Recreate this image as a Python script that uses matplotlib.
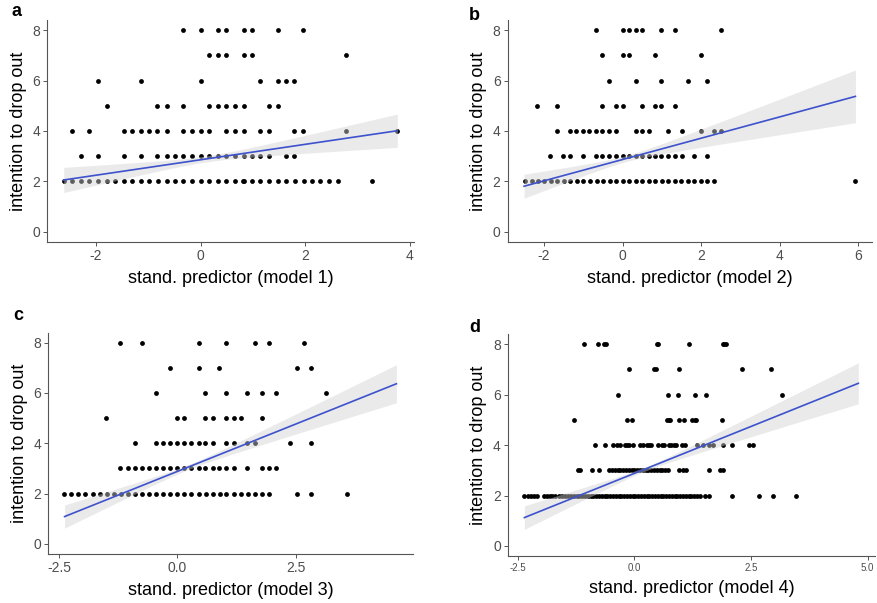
import numpy as np
import matplotlib
matplotlib.use('Agg')
import matplotlib.pyplot as plt

plt.rcParams['font.family'] = ['Liberation Sans', 'DejaVu Sans']
plt.rcParams['axes.unicode_minus'] = False

# ---- data: x positions of points per response level ----
a_pts = {
    8: [-0.34, 0, 0.33, 0.49, 0.82, 0.98, 1.47, 1.96],
    7: [0.16, 0.33, 0.49, 0.82, 0.98, 2.78],
    6: [-1.97, -1.14, 0, 1.14, 1.47, 1.63, 1.79],
    5: [-1.80, -0.83, -0.65, -0.34, 0.16, 0.33, 0.49, 0.65, 0.82, 1.30, 1.47],
    4: [-2.46, -2.13, -1.47, -1.31, -1.14, -0.98, -0.83, -0.65, -0.34, -0.17, 0,
        0.16, 0.49, 0.65, 0.82, 1.14, 1.30, 1.79, 1.96, 2.78, 3.76],
    3: [-2.29, -1.97, -1.47, -1.14, -0.83, -0.65, -0.50, -0.34, -0.17, 0, 0.16,
        0.33, 0.49, 0.65, 0.82, 0.98, 1.14, 1.30, 1.63, 1.79],
    2: [-2.62, -2.46, -2.29, -2.13, -1.97, -1.80, -1.64, -1.47, -1.31, -1.14,
        -0.98, -0.82, -0.65, -0.49, -0.33, -0.16, 0, 0.16, 0.33, 0.49, 0.65,
        0.80, 0.82, 0.98, 1.14, 1.31, 1.47, 1.64, 1.80, 1.97, 2.13, 2.29, 2.46,
        2.62, 3.27],
}
b_pts = {
    8: [-0.68, 0, 0.16, 0.33, 0.49, 0.99, 1.33, 2.50],
    7: [-0.52, 0, 0.16, 0.83, 2.0],
    6: [-0.34, 0.33, 0.99, 1.66, 2.16],
    5: [-2.18, -1.68, -0.52, -0.17, 0, 0.49, 0.83, 0.99, 1.33],
    4: [-1.68, -1.35, -1.19, -1.02, -0.86, -0.68, -0.52, -0.34, -0.17, 0.33,
        0.49, 0.66, 1.16, 1.50, 2.0, 2.32, 2.50],
    3: [-1.85, -1.51, -1.35, -1.02, -0.68, -0.52, -0.34, -0.17, 0, 0.16, 0.33,
        0.49, 0.66, 0.83, 0.99, 1.16, 1.33, 1.50, 1.83, 2.16],
    2: [-2.49, -2.32, -2.16, -1.99, -1.83, -1.66, -1.49, -1.33, -1.16, -1.00,
        -0.83, -0.66, -0.50, -0.33, -0.17, 0, 0.17, 0.33, 0.50, 0.66, 0.83,
        1.00, 1.16, 1.33, 1.49, 1.66, 1.83, 1.99, 2.16, 2.32, 5.93],
}
c_pts = {
    8: [-1.20, -0.75, 0.45, 1.04, 1.64, 1.94, 2.68],
    7: [-0.15, 0.45, 0.89, 2.54, 2.83],
    6: [-0.45, 0.59, 1.04, 1.48, 1.79, 2.08, 3.14],
    5: [-1.50, 0, 0.15, 0.59, 0.75, 1.04, 1.20, 1.34, 1.79],
    4: [-0.90, -0.45, -0.30, -0.15, 0, 0.15, 0.29, 0.45, 0.59, 0.75, 1.04,
        1.20, 1.48, 1.64, 2.39, 2.83],
    3: [-1.20, -1.04, -0.90, -0.75, -0.60, -0.45, -0.30, -0.15, 0, 0.15, 0.29,
        0.45, 0.59, 0.75, 0.89, 1.04, 1.20, 1.48, 1.79, 1.94, 2.08],
    2: [-2.39, -2.24, -2.09, -1.94, -1.79, -1.64, -1.49, -1.34, -1.19, -1.04,
        -0.90, -0.75, -0.60, -0.45, -0.30, -0.15, 0, 0.15, 0.30, 0.45, 0.60,
        0.75, 0.90, 1.04, 1.19, 1.34, 1.49, 1.64, 1.79, 1.94, 2.54, 2.83, 3.58],
}
d_pts = {
    8: [-1.09, -0.78, -0.66, -0.61, 0.48, 0.50, 1.17, 1.89, 1.92, 1.96],
    7: [-0.12, 0.41, 0.46, 0.96, 2.30, 2.92],
    6: [-0.35, 0.71, 0.94, 1.29, 1.54, 3.16],
    5: [-1.30, -0.15, -0.06, 0.69, 0.74, 0.76, 0.96, 1.07, 1.24, 1.29, 1.32, 1.87],
    4: [-0.85, -0.63, -0.45, -0.38, -0.31, -0.21, -0.16, -0.12, -0.04, 0.12,
        0.18, 0.27, 0.32, 0.36, 0.51, 0.58, 0.64, 0.74, 0.79, 0.84, 0.89, 1.03,
        1.09, 1.34, 1.48, 1.59, 1.69, 1.89, 2.10, 2.46, 2.55],
    3: [-1.21, -1.16, -0.91, -0.77, -0.54, -0.48, -0.42, -0.36, -0.30, -0.24,
        -0.18, -0.12, -0.06, 0.00, 0.06, 0.12, 0.18, 0.24, 0.30, 0.36, 0.42,
        0.48, 0.54, 0.60, 0.66, 0.73, 0.96, 1.04, 1.11, 1.59, 1.84, 1.89],
    2: [-2.36, -2.28, -2.22, -2.16, -2.10, -1.94, -1.88, -1.82, -1.76, -1.70,
        -1.62, -1.55, -1.48, -1.42, -1.36, -1.30, -1.24, -1.18, -1.12, -1.06,
        -1.00, -0.94, -0.88, -0.82, -0.76, -0.70, -0.64, -0.58, -0.52, -0.46,
        -0.40, -0.34, -0.28, -0.22, -0.16, -0.10, -0.04, 0.02, 0.08, 0.14,
        0.20, 0.26, 0.32, 0.38, 0.44, 0.50, 0.56, 0.62, 0.68, 0.74, 0.80, 0.86,
        0.92, 0.98, 1.04, 1.10, 1.16, 1.22, 1.28, 1.34, 1.40, 1.51, 1.59, 2.10,
        2.67, 2.98, 3.46],
}

fits = {
    'a': (2.86, 0.306, -2.62, 3.76),
    'b': (2.87, 0.422, -2.51, 5.93),
    'c': (2.88, 0.753, -2.38, 4.63),
    'd': (2.88, 0.744, -2.36, 4.80),
}
# confidence band: centre x, half-width at centre, growth term
bands = {
    'a': (0.11, 0.12, 0.0316),
    'b': (0.08, 0.12, 0.0315),
    'c': (0.25, 0.10, 0.0293),
    'd': (0.235, 0.08, 0.0314),
}
xticks = {
    'a': [-2, 0, 2, 4],
    'b': [-2, 0, 2, 4, 6],
    'c': [-2.5, 0.0, 2.5],
    'd': [-2.5, 0.0, 2.5, 5.0],
}
points = {'a': a_pts, 'b': b_pts, 'c': c_pts, 'd': d_pts}

W, H = 877, 603
fig = plt.figure(figsize=(W / 100, H / 100), dpi=100)

# axes boxes in pixels: left, top, right, bottom
boxes = {
    'a': (47, 20, 414, 242),
    'b': (507.5, 20, 872, 242),
    'c': (48, 332.6, 413, 554),
    'd': (507.7, 334.2, 875, 556),
}
letter_pos = {'a': (12, 12), 'b': (469, 15), 'c': (13, 316), 'd': (469, 328)}

for i, k in enumerate(['a', 'b', 'c', 'd']):
    l, t, r, b = boxes[k]
    ax = fig.add_axes([l / W, 1 - b / H, (r - l) / W, (b - t) / H])

    xs, ys = [], []
    for lvl, vals in points[k].items():
        xs += vals
        ys += [lvl] * len(vals)
    ax.scatter(xs, ys, s=12, color='black', linewidths=0, zorder=2)

    ic, sl, x0, x1 = fits[k]
    cx, hmin, g = bands[k]
    xx = np.linspace(x0, x1, 100)
    yy = ic + sl * xx
    hw = np.sqrt(hmin ** 2 + g * (xx - cx) ** 2)
    ax.fill_between(xx, yy - hw, yy + hw, color='#d2d2d2', alpha=0.45,
                    linewidth=0, zorder=3)
    ax.plot(xx, yy, color='#3d52cc', lw=1.2, zorder=4)

    rng = x1 - x0
    ax.set_xlim(x0 - 0.05 * rng, x1 + 0.05 * rng)
    ax.set_ylim(-0.4, 8.4)
    ax.set_yticks([0, 2, 4, 6, 8])
    ax.set_xticks(xticks[k])
    if k in ('c', 'd'):
        ax.set_xticklabels(['%.1f' % v for v in xticks[k]])

    for s in ['top', 'right']:
        ax.spines[s].set_visible(False)
    for s in ['left', 'bottom']:
        ax.spines[s].set_color('#555555')
        ax.spines[s].set_linewidth(0.8)
    ax.tick_params(direction='out', length=3, width=0.7, color='#555555',
                   labelcolor='#4d4d4d', labelsize=10, pad=2)
    if k == 'd':
        ax.tick_params(axis='x', labelsize=7)

    ax.set_ylabel('intention to drop out', fontsize=13, labelpad=4)
    ax.set_xlabel('stand. predictor (model %d)' % (i + 1), fontsize=13,
                  labelpad=5)
    lx, ly = letter_pos[k]
    fig.text(lx / W, 1 - ly / H, k, fontsize=13, fontweight='bold',
             ha='left', va='center')

fig.savefig('out.png', dpi=100)
